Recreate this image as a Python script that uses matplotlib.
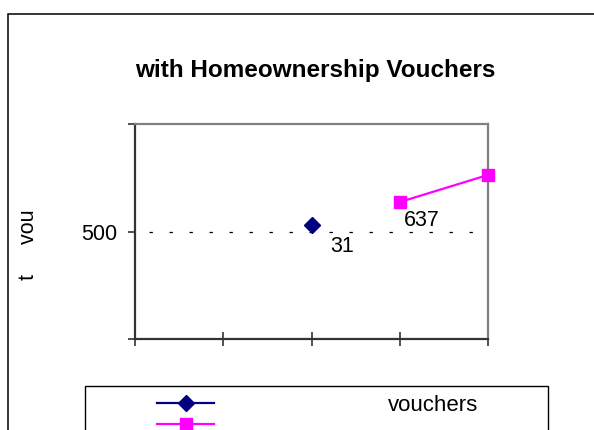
import matplotlib.pyplot as plt
from matplotlib.patches import Rectangle

plt.rcParams["font.family"] = ["Liberation Sans", "DejaVu Sans"]

title = "with Homeownership Vouchers"
y_label = "t     vou"
x_slots = [0, 1, 2, 3, 4]
y_ticks = [0, 500, 1000]
y_tick_labels = ["", "500", ""]
ref_level = 500

# series 1 has one point, series 2 has two
s1_x = [2]
s1_y = [531]
s1_labels = ["31"]
s2_x = [3, 4]
s2_y = [637, 763]
s2_labels = ["637", ""]
legend_labels = ["vouchers", ""]

W, H = 594, 430
fig = plt.figure(figsize=(W / 100, H / 100), dpi=100)
ax = fig.add_axes([135 / W, 1 - 339 / H, (488 - 135) / W, 215 / H])

l1, = ax.plot(s1_x, s1_y, color="#000080", marker="D", ms=8.5, lw=1.6,
              zorder=3, clip_on=False)
l2, = ax.plot(s2_x, s2_y, color="#FF00FF", marker="s", ms=8.5, lw=1.6,
              zorder=3, clip_on=False)

ax.axhline(ref_level, xmin=0.04, xmax=0.97, color="black", lw=0.9,
           linestyle=(0, (2.7, 13.3)), zorder=1)

# data labels
for x, y, t in zip(s1_x, s1_y, s1_labels):
    ax.annotate(t, (x, y), xytext=(13.5, -19.5), textcoords="offset points",
                ha="left", va="baseline", fontsize=15.5)
for x, y, t in zip(s2_x, s2_y, s2_labels):
    ax.annotate(t, (x, y), xytext=(3, -17), textcoords="offset points",
                ha="left", va="baseline", fontsize=15.5)

ax.set_xlim(x_slots[0], x_slots[-1])
ax.set_ylim(y_ticks[0], y_ticks[-1])
ax.set_xticks(x_slots)
ax.set_xticklabels([])
ax.set_yticks(y_ticks)
ax.set_yticklabels(y_tick_labels)
ax.tick_params(axis="x", direction="inout", length=10, width=1.2, color="#333333")
ax.tick_params(axis="y", direction="out", length=5, width=1.2, color="#333333",
               labelsize=15.5, pad=8)

for side in ["left", "bottom"]:
    ax.spines[side].set_color("#333333")
    ax.spines[side].set_linewidth(1.6)
for side in ["top", "right"]:
    ax.spines[side].set_color("#808080")
    ax.spines[side].set_linewidth(1.6)

fig.text(315 / W, 1 - 77 / H, title, ha="center", va="baseline",
         fontsize=17.5, fontweight="bold")
fig.text(28 / W, 1 - 245 / H, y_label, rotation=90, ha="center", va="center",
         fontsize=15.5)

# outer chart border and legend frame, both run off the image
fig.add_artist(Rectangle((8 / W, -0.5), 2, 1.5 - 14 / H, transform=fig.transFigure,
                         fill=False, ec="black", lw=1.1))
fig.add_artist(Rectangle((85 / W, -0.5), (548 - 85) / W, 1.5 - 386 / H,
                         transform=fig.transFigure, fill=False, ec="black", lw=1))

fig.legend([l1, l2], legend_labels, loc="upper left",
           bbox_to_anchor=(157 / W, 1 - 395 / H), frameon=False, fontsize=16,
           handlelength=2.57, handletextpad=7.8, borderpad=0, borderaxespad=0,
           labelspacing=0.0)

fig.savefig("out.png", dpi=100)
